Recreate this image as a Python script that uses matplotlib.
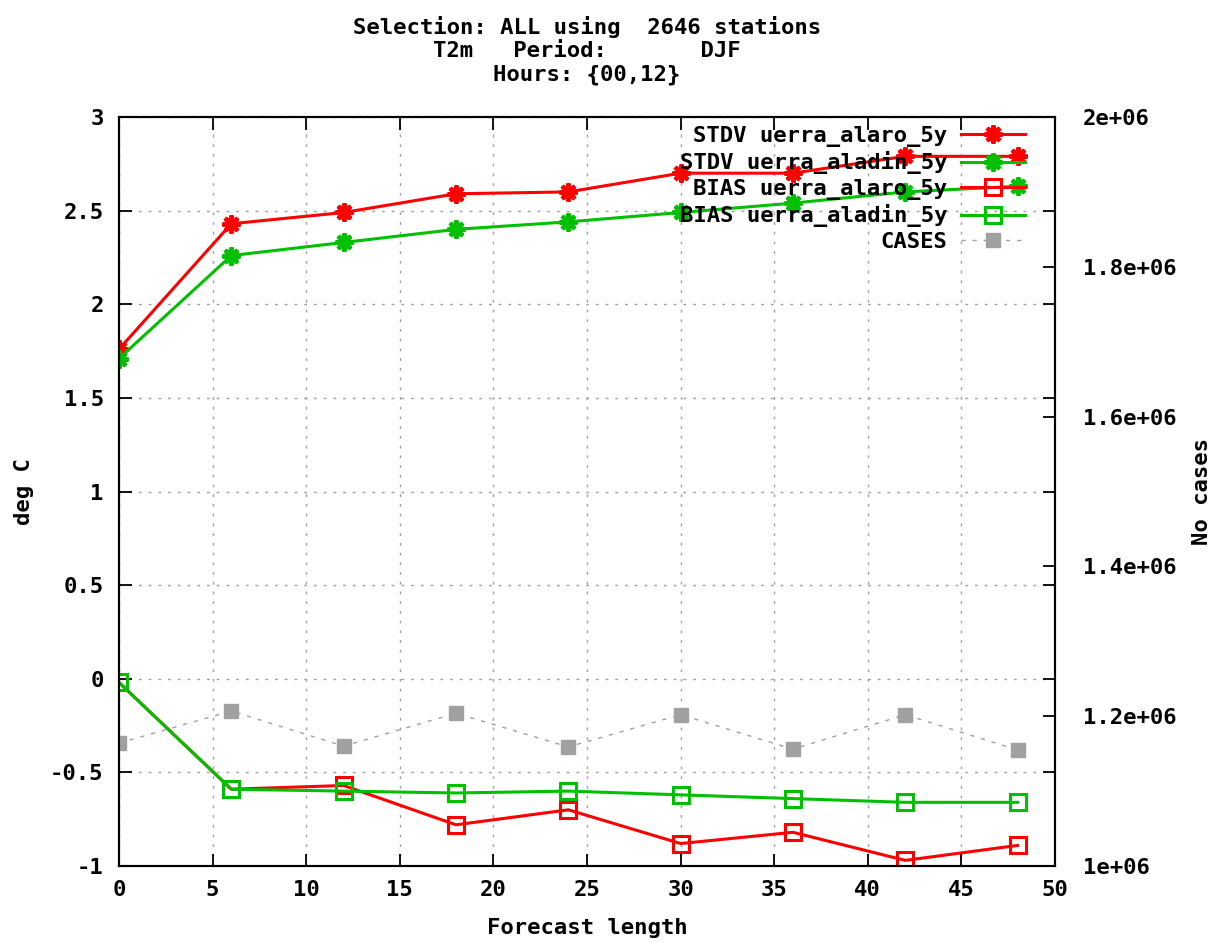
import matplotlib
matplotlib.use("Agg")
import matplotlib.pyplot as plt

# --- data ---
lead = [0, 6, 12, 18, 24, 30, 36, 42, 48]
stdv_alaro = [1.76, 2.43, 2.49, 2.59, 2.60, 2.70, 2.70, 2.79, 2.79]
stdv_aladin = [1.71, 2.26, 2.33, 2.40, 2.44, 2.49, 2.54, 2.60, 2.63]
bias_alaro = [-0.02, -0.59, -0.57, -0.78, -0.70, -0.88, -0.82, -0.97, -0.89]
bias_aladin = [-0.02, -0.59, -0.60, -0.61, -0.60, -0.62, -0.64, -0.66, -0.66]
cases = [1.164e6, 1.207e6, 1.160e6, 1.204e6, 1.159e6, 1.202e6, 1.156e6, 1.202e6, 1.155e6]

x_ticks = list(range(0, 51, 5))
y_ticks = [-1, -0.5, 0, 0.5, 1, 1.5, 2, 2.5, 3]
y_labels = ["-1", "-0.5", "0", "0.5", "1", "1.5", "2", "2.5", "3"]
y2_ticks = [1.0e6, 1.2e6, 1.4e6, 1.6e6, 1.8e6, 2.0e6]
y2_labels = ["1e+06", "1.2e+06", "1.4e+06", "1.6e+06", "1.8e+06", "2e+06"]

RED = "#ff0000"
GREEN = "#00c000"
GREY = "#a0a0a0"
FS = 16

plt.rcParams["font.family"] = "DejaVu Sans Mono"
plt.rcParams["font.weight"] = "bold"

fig = plt.figure(figsize=(12.15, 9.43), dpi=100)
ax = fig.add_axes([119 / 1215, 1 - 866 / 943, (1055 - 119) / 1215, (866 - 117) / 943])
ax2 = ax.twinx()

star = (8, 2, 0)
l1, = ax.plot(lead, stdv_alaro, color=RED, lw=2.2, marker=star, ms=13, mew=3,
              label="STDV uerra_alaro_5y")
l2, = ax.plot(lead, stdv_aladin, color=GREEN, lw=2.2, marker=star, ms=13, mew=3,
              label="STDV uerra_aladin_5y")
l3, = ax.plot(lead, bias_alaro, color=RED, lw=2.2, marker="s", ms=11, mew=2.2,
              mfc="none", label="BIAS uerra_alaro_5y")
l4, = ax.plot(lead, bias_aladin, color=GREEN, lw=2.2, marker="s", ms=11, mew=2.2,
              mfc="none", label="BIAS uerra_aladin_5y")
l5, = ax2.plot(lead, cases, color=GREY, lw=1, ls=(0, (3, 5)), marker="s", ms=10,
               mec=GREY, mfc=GREY, label="CASES")

ax.set_xlim(0, 50)
ax.set_ylim(-1, 3)
ax2.set_ylim(1.0e6, 2.0e6)

ax.set_xticks(x_ticks)
ax.set_xticklabels([str(t) for t in x_ticks], fontsize=FS, fontweight="bold")
ax.set_yticks(y_ticks)
ax.set_yticklabels(y_labels, fontsize=FS, fontweight="bold")
ax2.set_yticks(y2_ticks)
ax2.set_yticklabels(y2_labels, fontsize=FS, fontweight="bold")

ax.tick_params(axis="x", direction="in", length=9, width=1.3, top=True, pad=10)
ax.tick_params(axis="y", direction="in", length=9, width=1.3, right=True,
               labelright=False, pad=11)
ax2.tick_params(direction="in", length=9, width=1.3, pad=20)

ax.grid(True, color=GREY, lw=1, ls=(0, (2, 5)))

for sp in list(ax.spines.values()) + list(ax2.spines.values()):
    sp.set_linewidth(1.5)
    sp.set_color("black")

ax.set_xlabel("Forecast length", fontsize=FS, fontweight="bold", labelpad=13)
ax.set_ylabel("deg C", fontsize=FS, fontweight="bold", labelpad=12)
ax2.set_ylabel("No cases", fontsize=FS, fontweight="bold", labelpad=11)

fig.text(587 / 1215, 1 - 27 / 943, "Selection: ALL using  2646 stations",
         ha="center", va="center", fontsize=FS, fontweight="bold")
fig.text(587 / 1215, 1 - 51 / 943, "T2m   Period:       DJF",
         ha="center", va="center", fontsize=FS, fontweight="bold")
fig.text(587 / 1215, 1 - 75 / 943, "Hours: {00,12}",
         ha="center", va="center", fontsize=FS, fontweight="bold")

leg = ax2.legend(handles=[l1, l2, l3, l4, l5], loc="upper right",
                 bbox_to_anchor=(1025 / 1215, 1 - 126 / 943),
                 bbox_transform=fig.transFigure, frameon=False, markerfirst=False,
                 prop={"size": FS, "weight": "bold"}, handlelength=2.9,
                 handletextpad=0.6, labelspacing=0.2, borderpad=0,
                 borderaxespad=0, numpoints=1)

fig.savefig("out.png", dpi=100)
